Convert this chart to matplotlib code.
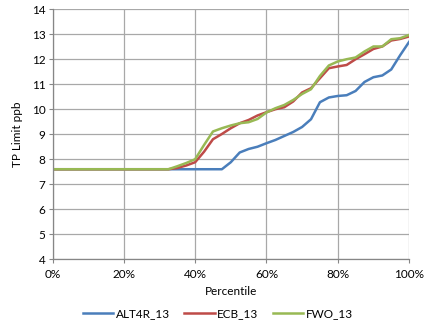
import matplotlib
matplotlib.use("Agg")
import matplotlib.pyplot as plt
from matplotlib.ticker import FuncFormatter

plt.rcParams['font.family'] = ['Lato', 'DejaVu Sans']

percentiles = [i * 2.5 for i in range(41)]
flat = [7.6] * 14  # 0% .. 32.5%
alt4r = flat + [7.6, 7.6, 7.6, 7.6, 7.6, 7.6,
                7.88, 8.27, 8.41, 8.5, 8.64, 8.77, 8.93, 9.09, 9.29, 9.6,
                10.28, 10.47, 10.53, 10.56, 10.73, 11.09, 11.28, 11.35, 11.59, 12.16, 12.69]
ecb = flat + [7.65, 7.75, 7.88, 8.3, 8.8, 9.01,
              9.24, 9.44, 9.57, 9.75, 9.88, 10.0, 10.08, 10.31, 10.67, 10.84,
              11.24, 11.64, 11.71, 11.77, 12.0, 12.2, 12.41, 12.51, 12.75, 12.81, 12.91]
fwo = flat + [7.72, 7.85, 8.0, 8.57, 9.11, 9.24,
              9.35, 9.44, 9.48, 9.61, 9.87, 10.04, 10.17, 10.37, 10.61, 10.8,
              11.33, 11.75, 11.91, 12.0, 12.07, 12.31, 12.51, 12.51, 12.8, 12.84, 12.97]
series_names = ['ALT4R_13', 'ECB_13', 'FWO_13']
colors = ['#4A7EBB', '#BE4B48', '#98B954']

fig = plt.figure(figsize=(4.27, 3.29), dpi=100)
ax = fig.add_axes([0.123, 0.212, 0.835, 0.760])

for vals, name, c in zip([alt4r, ecb, fwo], series_names, colors):
    ax.plot(percentiles, vals, color=c, lw=1.8, label=name, solid_joinstyle='round')

ax.set_xlim(0, 100)
ax.set_ylim(4, 14)
ax.set_xticks(range(0, 101, 20))
ax.set_yticks(range(4, 15))
ax.xaxis.set_major_formatter(FuncFormatter(lambda v, p: f"{int(v)}%"))
ax.grid(True, color='#a8a8a8', lw=0.9)
ax.set_axisbelow(True)
for s in ['top', 'right']:
    ax.spines[s].set_visible(False)
for s in ['left', 'bottom']:
    ax.spines[s].set_color('#868686')
    ax.spines[s].set_linewidth(0.9)
ax.tick_params(axis='both', labelsize=8.5, length=3, color='#868686', pad=2)
ax.tick_params(axis='x', pad=4)
ax.set_xlabel('Percentile', fontsize=8.5, labelpad=4)
ax.set_ylabel('TP Limit ppb', fontsize=8.5, labelpad=6)

fig.legend(loc='center', bbox_to_anchor=(0.51, 0.046), ncol=3, frameon=False,
           fontsize=8.5, handlelength=2.6, columnspacing=1.2, handletextpad=0.2)

fig.savefig('out.png', dpi=100)
